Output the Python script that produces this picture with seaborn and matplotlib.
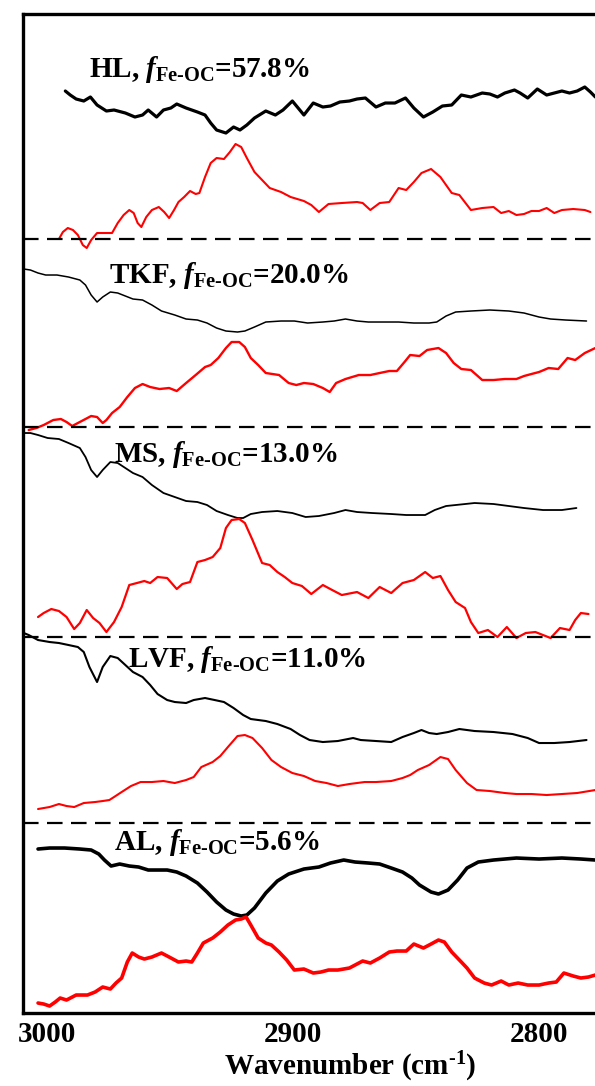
import numpy as np
import pandas as pd
import matplotlib.pyplot as plt
import seaborn as sns

# wavenumber (cm-1) and stacked intensity (a.u.) for each sample
hl_black_x = [2992.6, 2990.6, 2988.2, 2985.1, 2982.4, 2979.7, 2975.9, 2972.8, 2968.2, 2964.3, 2961.2, 2958.9, 2955.5, 2952.7, 2949.7, 2947.3, 2943.5, 2938.9, 2935.8, 2933.5, 2931.1, 2927.3, 2924.2, 2921.6, 2918.8, 2915.7, 2911.1, 2907.2, 2904.1, 2900.3, 2895.6, 2891.8, 2887.9, 2884.8, 2881.0, 2877.1, 2874.0, 2870.6, 2866.3, 2862.5, 2858.6, 2854.3, 2850.9, 2847.0, 2843.2, 2839.3, 2835.5, 2831.6, 2827.7, 2823.1, 2820.0, 2816.9, 2813.9, 2810.0, 2807.7, 2804.6, 2800.7, 2796.9, 2793.8, 2790.7, 2787.6, 2784.5, 2781.4, 2779.1, 2777.1]
hl_black_y = [922, 918, 914, 912, 916, 908, 902, 903, 900, 896, 898, 903, 896, 903, 905, 909, 905, 901, 898, 890, 883, 880, 886, 883, 888, 895, 902, 898, 903, 912, 898, 910, 906, 907, 911, 912, 914, 915, 906, 910, 910, 915, 905, 896, 901, 907, 908, 918, 916, 920, 919, 916, 920, 923, 920, 915, 924, 918, 920, 922, 920, 922, 926, 921, 916]
hl_red_x = [2995.2, 2993.6, 2991.6, 2989.5, 2987.5, 2985.5, 2983.9, 2982.1, 2979.7, 2976.7, 2973.6, 2971.3, 2968.9, 2966.6, 2964.8, 2963.2, 2961.7, 2959.7, 2957.4, 2954.6, 2952.4, 2950.4, 2948.4, 2946.6, 2944.3, 2941.9, 2939.6, 2938.1, 2935.8, 2933.5, 2931.1, 2928.1, 2925.7, 2923.4, 2921.1, 2918.8, 2915.7, 2912.6, 2909.5, 2904.9, 2901.0, 2895.6, 2892.6, 2889.5, 2885.6, 2880.2, 2874.0, 2871.7, 2868.6, 2864.8, 2860.9, 2857.1, 2854.0, 2850.9, 2847.8, 2843.9, 2840.1, 2835.5, 2832.4, 2827.7, 2823.1, 2818.5, 2815.4, 2812.3, 2809.2, 2806.1, 2803.1, 2800.0, 2796.9, 2793.8, 2790.7, 2786.1, 2781.4, 2779.1]
hl_red_y = [774, 781, 785, 783, 778, 768, 765, 773, 780, 780, 780, 790, 798, 803, 800, 790, 786, 796, 803, 806, 801, 795, 803, 811, 816, 822, 819, 820, 836, 850, 855, 854, 861, 869, 866, 855, 841, 833, 825, 821, 816, 812, 808, 801, 809, 810, 811, 810, 803, 810, 811, 825, 823, 831, 840, 844, 836, 820, 818, 803, 805, 806, 800, 802, 798, 799, 802, 802, 805, 800, 803, 804, 803, 801]

tkf_black_x = [3009.5, 3006.8, 3003.7, 3000.6, 2996.0, 2991.3, 2986.7, 2984.4, 2982.1, 2979.7, 2977.4, 2974.3, 2971.3, 2968.2, 2965.1, 2961.2, 2957.4, 2953.5, 2948.1, 2943.5, 2938.9, 2935.0, 2931.1, 2927.3, 2922.6, 2919.6, 2915.7, 2911.1, 2904.9, 2899.5, 2894.1, 2887.9, 2883.3, 2878.7, 2874.0, 2869.4, 2864.8, 2857.1, 2850.9, 2844.7, 2841.6, 2837.8, 2833.9, 2827.7, 2820.0, 2812.3, 2806.1, 2800.0, 2795.3, 2789.2, 2780.7]
tkf_black_y = [744, 743, 740, 738, 738, 736, 733, 728, 718, 711, 716, 721, 720, 717, 714, 713, 708, 702, 698, 694, 693, 690, 685, 682, 681, 682, 686, 691, 692, 692, 690, 691, 692, 694, 692, 691, 691, 691, 690, 690, 691, 697, 701, 702, 703, 702, 700, 696, 694, 693, 692]
tkf_red_x = [3007.5, 3004.4, 3001.4, 2997.5, 2994.4, 2992.1, 2989.8, 2987.5, 2984.4, 2982.1, 2979.7, 2977.4, 2975.9, 2973.6, 2970.5, 2967.4, 2964.3, 2961.2, 2958.1, 2954.3, 2950.4, 2947.3, 2943.5, 2939.6, 2935.8, 2933.5, 2930.4, 2927.3, 2925.0, 2921.9, 2919.6, 2917.2, 2914.2, 2911.1, 2905.7, 2901.8, 2898.7, 2895.6, 2891.8, 2887.9, 2885.1, 2882.5, 2878.7, 2873.3, 2868.6, 2864.8, 2860.9, 2857.8, 2854.7, 2852.4, 2848.6, 2845.5, 2840.9, 2837.8, 2834.7, 2831.6, 2827.7, 2825.4, 2823.1, 2818.5, 2813.9, 2809.2, 2806.1, 2803.1, 2800.0, 2796.1, 2792.2, 2788.4, 2785.3, 2781.4, 2777.1]
tkf_red_y = [583, 585, 588, 593, 594, 591, 587, 590, 594, 597, 596, 590, 593, 600, 606, 616, 625, 629, 626, 624, 625, 622, 630, 638, 646, 648, 655, 665, 671, 671, 666, 655, 648, 640, 638, 630, 628, 630, 629, 625, 621, 630, 634, 638, 638, 640, 642, 642, 651, 658, 657, 663, 665, 660, 650, 644, 643, 638, 633, 633, 634, 634, 637, 639, 641, 645, 644, 655, 653, 660, 665]

ms_black_x = [3009.5, 3006.8, 3003.7, 2999.8, 2995.2, 2991.3, 2986.7, 2984.4, 2982.1, 2979.7, 2977.4, 2974.3, 2971.3, 2968.2, 2965.1, 2961.2, 2957.4, 2952.7, 2948.1, 2943.5, 2938.9, 2935.0, 2931.1, 2926.5, 2922.6, 2920.3, 2917.2, 2912.6, 2906.4, 2900.3, 2894.9, 2889.5, 2883.3, 2878.7, 2874.0, 2867.9, 2860.1, 2854.0, 2846.3, 2842.4, 2837.8, 2833.9, 2826.2, 2818.5, 2812.3, 2806.1, 2798.4, 2790.7, 2784.8]
ms_black_y = [580, 580, 578, 575, 574, 570, 565, 556, 543, 536, 543, 551, 550, 545, 540, 536, 528, 520, 516, 512, 511, 508, 502, 498, 495, 495, 499, 501, 502, 500, 496, 497, 500, 503, 501, 500, 499, 498, 498, 503, 507, 508, 510, 509, 507, 505, 503, 503, 505]
ms_red_x = [3003.7, 3001.4, 2998.3, 2995.2, 2992.1, 2989.0, 2986.7, 2983.9, 2981.3, 2978.7, 2975.9, 2972.8, 2969.7, 2966.6, 2963.5, 2960.5, 2958.1, 2955.1, 2951.2, 2947.3, 2945.0, 2941.9, 2938.9, 2935.8, 2932.7, 2929.6, 2927.3, 2925.0, 2921.9, 2919.6, 2916.5, 2912.6, 2909.5, 2906.4, 2903.4, 2900.3, 2896.4, 2892.6, 2887.9, 2884.1, 2880.2, 2874.0, 2869.4, 2864.8, 2860.1, 2855.5, 2850.9, 2846.3, 2843.2, 2840.1, 2837.0, 2833.9, 2830.1, 2827.7, 2824.7, 2820.8, 2816.9, 2813.1, 2809.2, 2805.4, 2801.5, 2795.3, 2791.5, 2787.6, 2785.3, 2783.0, 2779.9]
ms_red_y = [396, 400, 404, 402, 396, 384, 390, 403, 395, 390, 381, 391, 406, 428, 430, 432, 430, 436, 435, 424, 429, 431, 451, 453, 456, 465, 485, 493, 494, 490, 473, 450, 448, 441, 436, 430, 427, 419, 428, 423, 418, 421, 415, 426, 420, 430, 433, 441, 435, 437, 423, 411, 405, 391, 380, 383, 376, 386, 375, 380, 381, 375, 385, 383, 393, 400, 399]

lvf_black_x = [3009.5, 3007.5, 3003.7, 2999.0, 2995.2, 2991.3, 2987.5, 2985.1, 2982.8, 2979.7, 2977.4, 2974.3, 2971.3, 2968.2, 2965.1, 2961.2, 2958.1, 2955.1, 2951.2, 2948.1, 2943.5, 2940.4, 2935.8, 2931.9, 2928.1, 2924.2, 2920.3, 2917.2, 2911.1, 2906.4, 2901.0, 2897.2, 2893.3, 2887.9, 2881.8, 2875.6, 2872.5, 2866.3, 2860.1, 2855.5, 2850.9, 2847.8, 2844.7, 2841.6, 2837.0, 2832.4, 2826.2, 2818.5, 2810.8, 2804.6, 2800.0, 2793.8, 2787.6, 2780.7]
lvf_black_y = [380, 378, 373, 371, 370, 368, 366, 361, 346, 331, 346, 357, 355, 348, 341, 336, 328, 319, 313, 311, 310, 313, 315, 313, 311, 305, 298, 294, 292, 289, 284, 278, 273, 271, 272, 275, 273, 272, 271, 276, 280, 283, 280, 279, 281, 284, 282, 281, 279, 275, 270, 270, 271, 273]
lvf_red_x = [3003.7, 2999.0, 2995.2, 2992.1, 2989.0, 2985.1, 2980.5, 2977.4, 2974.7, 2972.8, 2969.7, 2965.9, 2962.0, 2957.4, 2952.7, 2948.1, 2943.5, 2940.4, 2937.3, 2932.7, 2929.6, 2926.5, 2922.6, 2919.6, 2916.5, 2912.6, 2908.8, 2904.9, 2900.3, 2895.6, 2891.0, 2886.4, 2881.8, 2877.1, 2870.9, 2866.3, 2860.1, 2855.5, 2852.4, 2849.3, 2844.7, 2840.1, 2837.0, 2833.9, 2829.3, 2825.4, 2820.0, 2813.9, 2809.2, 2803.1, 2796.9, 2790.7, 2784.5, 2777.1]
lvf_red_y = [204, 206, 209, 207, 206, 210, 211, 212, 213, 216, 221, 227, 231, 231, 232, 230, 233, 236, 246, 251, 257, 266, 277, 278, 275, 265, 253, 246, 240, 237, 232, 230, 227, 229, 231, 231, 232, 235, 238, 243, 248, 256, 254, 243, 230, 223, 222, 220, 219, 219, 218, 219, 220, 223]

al_black_x = [3003.7, 2999.0, 2992.9, 2986.7, 2982.1, 2979.0, 2976.7, 2974.0, 2970.5, 2966.6, 2962.8, 2958.9, 2954.3, 2951.2, 2947.3, 2943.5, 2938.9, 2935.0, 2931.1, 2927.3, 2924.2, 2921.1, 2918.8, 2915.7, 2911.1, 2906.4, 2901.8, 2895.6, 2889.5, 2884.8, 2879.4, 2874.8, 2869.4, 2864.8, 2860.1, 2855.5, 2851.7, 2848.6, 2843.9, 2840.9, 2837.0, 2833.1, 2829.3, 2824.7, 2818.5, 2809.2, 2800.0, 2790.7, 2783.0, 2777.1]
al_black_y = [164, 165, 165, 164, 163, 159, 153, 147, 149, 147, 146, 143, 143, 143, 141, 137, 130, 121, 111, 103, 99, 97, 98, 105, 120, 132, 139, 144, 146, 150, 153, 151, 150, 149, 145, 141, 135, 128, 121, 119, 123, 133, 145, 151, 153, 155, 154, 155, 154, 153]
al_red_x = [3003.7, 3001.4, 2999.0, 2996.7, 2994.7, 2992.1, 2988.2, 2983.6, 2980.5, 2977.4, 2974.3, 2972.0, 2969.7, 2967.4, 2965.4, 2962.8, 2960.5, 2957.4, 2953.5, 2950.4, 2946.6, 2943.5, 2941.2, 2938.9, 2936.5, 2932.7, 2929.6, 2926.5, 2923.4, 2921.1, 2919.1, 2917.2, 2914.2, 2911.1, 2908.8, 2905.7, 2902.6, 2899.5, 2895.6, 2891.8, 2888.7, 2885.6, 2881.8, 2877.1, 2871.7, 2868.6, 2864.8, 2860.9, 2857.8, 2854.0, 2850.9, 2847.0, 2843.9, 2840.9, 2838.5, 2835.5, 2831.6, 2829.3, 2826.2, 2822.3, 2819.3, 2815.4, 2812.3, 2808.5, 2804.6, 2800.0, 2796.1, 2793.0, 2789.9, 2786.1, 2783.0, 2779.9, 2777.1]
al_red_y = [10, 9, 7, 11, 15, 13, 18, 18, 21, 26, 24, 30, 35, 51, 60, 56, 54, 56, 60, 56, 51, 52, 51, 60, 70, 75, 81, 88, 93, 94, 96, 88, 75, 70, 68, 61, 53, 43, 44, 40, 41, 43, 43, 45, 52, 50, 55, 61, 62, 62, 69, 65, 69, 73, 71, 61, 51, 45, 35, 30, 28, 32, 28, 30, 28, 28, 30, 31, 40, 37, 35, 36, 38]

samples = ["HL", "TKF", "MS", "LVF", "AL"]
f_values = ["57.8%", "20.0%", "13.0%", "11.0%", "5.6%"]
label_x = [2983, 2975, 2973, 2967, 2973]
label_y = [936, 730, 551, 346, 163]
separators = [774, 586, 376, 190]
xticks = [3000, 2900, 2800]

sns.set_style("white")
plt.rcParams['font.family'] = ['Liberation Serif', 'DejaVu Serif']
plt.rcParams['font.weight'] = 'bold'
plt.rcParams['text.color'] = 'black'
plt.rcParams['axes.labelcolor'] = 'black'
plt.rcParams['xtick.color'] = 'black'
plt.rcParams['mathtext.fontset'] = 'custom'
plt.rcParams['mathtext.rm'] = 'Liberation Serif:bold'
plt.rcParams['mathtext.bf'] = 'Liberation Serif:bold'
plt.rcParams['mathtext.it'] = 'Liberation Serif:italic:bold'

fig = plt.figure(figsize=(5.95, 10.86), dpi=100)
ax = fig.add_axes([0.0387, 0.0672, 0.983, 0.9199])

black_lines = [(hl_black_x, hl_black_y, 2.3), (tkf_black_x, tkf_black_y, 1.1),
               (ms_black_x, ms_black_y, 1.3), (lvf_black_x, lvf_black_y, 1.5),
               (al_black_x, al_black_y, 2.6)]
red_lines = [(hl_red_x, hl_red_y, 1.5), (tkf_red_x, tkf_red_y, 1.7),
             (ms_red_x, ms_red_y, 1.6), (lvf_red_x, lvf_red_y, 1.5),
             (al_red_x, al_red_y, 2.6)]

for xs, ys, w in black_lines:
    sns.lineplot(x=xs, y=ys, ax=ax, color='black', lw=w, sort=False,
                 estimator=None, solid_joinstyle='round')
for xs, ys, w in red_lines:
    sns.lineplot(x=xs, y=ys, ax=ax, color='#ff0000', lw=w, sort=False,
                 estimator=None, solid_joinstyle='round')

# dashed separators between the samples
for s in separators:
    ax.axhline(s, color='black', lw=1.6, dashes=(7, 3.8))

for name, fv, lx, ly in zip(samples, f_values, label_x, label_y):
    ax.text(lx, ly, name + r", $\mathit{f}_{\mathrm{Fe\text{-}OC}}$=" + fv,
            fontsize=21, fontweight='bold', color='black',
            ha='left', va='baseline')

ax.set_xlim(3009.8, 2772)
ax.set_ylim(0, 999)
ax.set_xticks(xticks)
ax.set_xticklabels([str(t) for t in xticks])
ax.set_yticks([])
ax.tick_params(axis='x', length=0, pad=6, labelsize=21, labelcolor='black')
ax.set_xlabel(r"Wavenumber (cm$^{\text{-}1}$)", fontsize=21,
              fontweight='bold', color='black')
ax.xaxis.set_label_coords(0.559, -0.037)

for sp in ax.spines.values():
    sp.set_linewidth(2.4)
    sp.set_color('black')

fig.savefig('out.png', dpi=100)
